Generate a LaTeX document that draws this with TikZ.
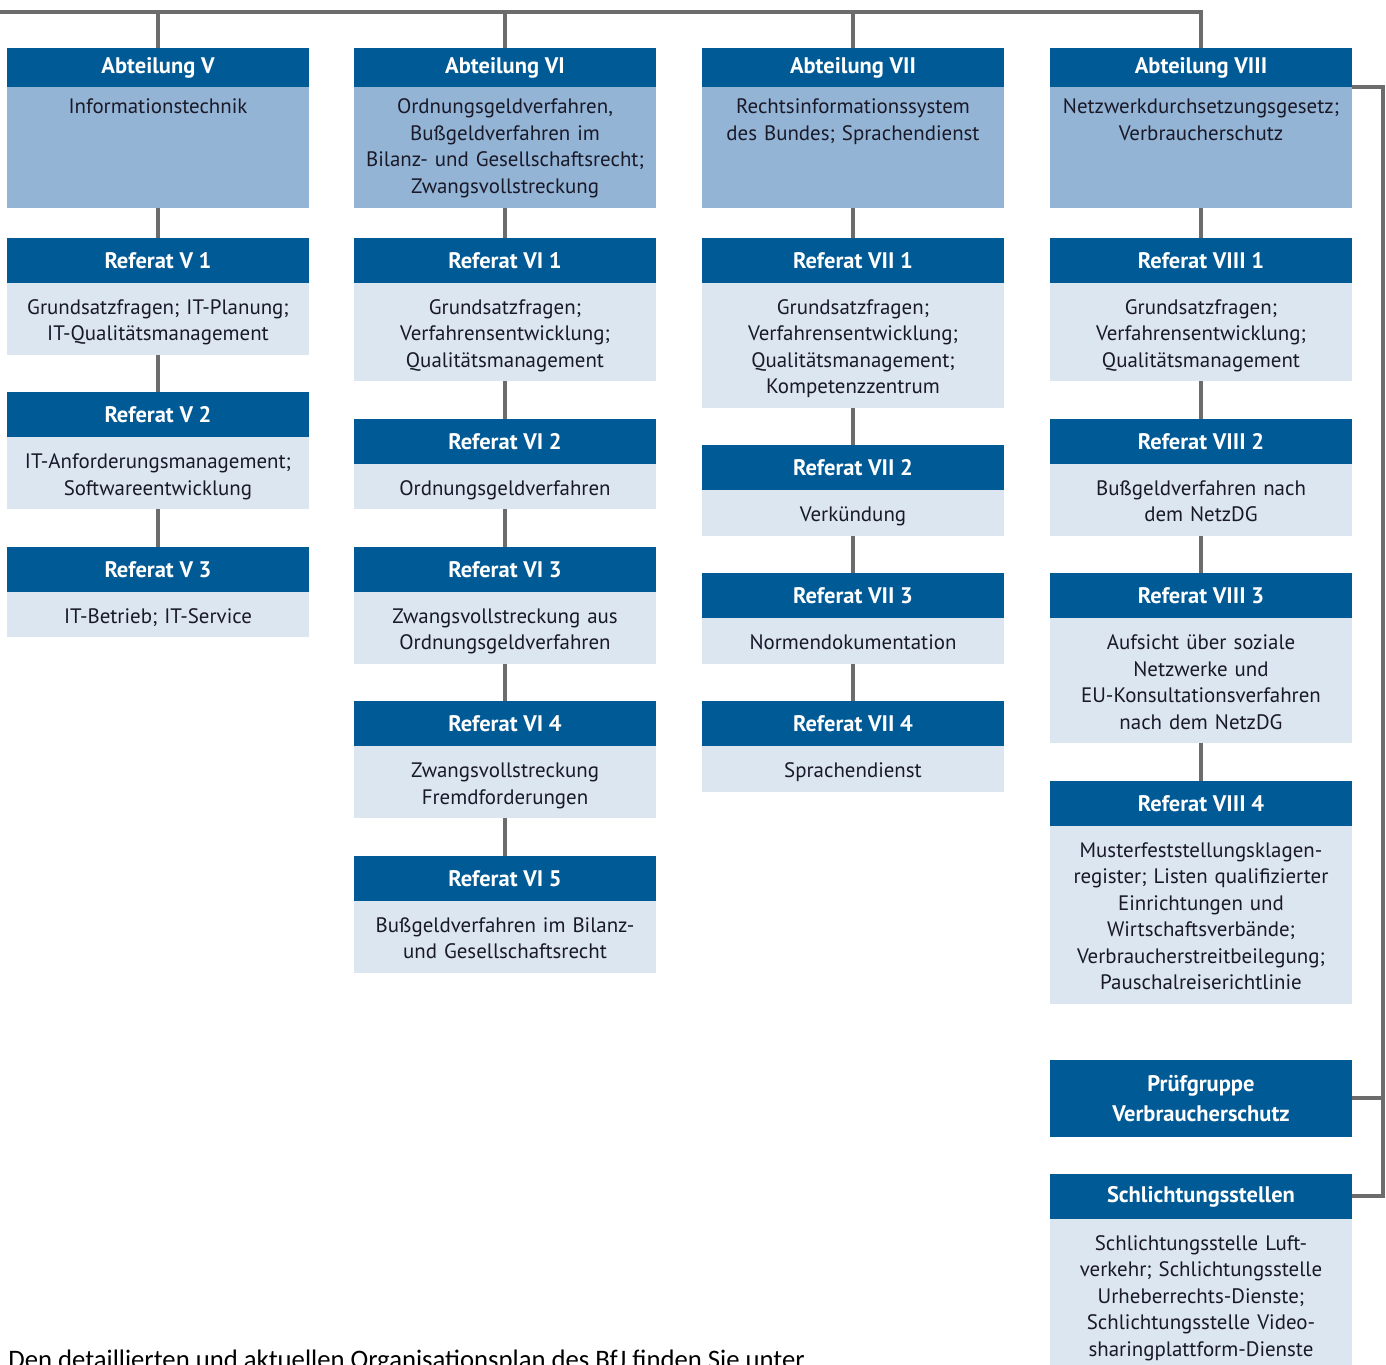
\documentclass[tikz,border=0pt]{standalone}
\usepackage{fontspec}
\setmainfont{PT Sans}
\newfontfamily\notefont{Carlito}
\usetikzlibrary{positioning}
\definecolor{bfjdark}{RGB}{0,90,150}
\definecolor{bfjmid}{RGB}{148,180,214}
\definecolor{bfjlight}{RGB}{220,230,240}
\definecolor{bfjtext}{RGB}{25,25,40}
\definecolor{linegrey}{RGB}{108,108,108}
\newcommand{\topstrut}{\rule{0pt}{12.3pt}}
\newcommand{\botstrut}{\rule[-2.8pt]{0pt}{2.8pt}}
\tikzset{
  head/.style={fill=bfjdark, text=white, font=\fontsize{12.8pt}{17pt}\selectfont\bfseries, minimum width=6.04cm, minimum height=0.9cm, inner sep=0pt, outer sep=0pt, anchor=north},
  abthead/.style={head, minimum height=0.78cm},
  body/.style={fill=bfjlight, text=bfjtext, font=\fontsize{11.9pt}{15.08pt}\selectfont, text width=6.04cm, align=center, inner xsep=0pt, inner ysep=0.19cm, outer sep=0pt, execute at begin node=\topstrut, execute at end node=\botstrut, anchor=north},
  abtbody/.style={fill=bfjmid, minimum width=6.04cm, minimum height=2.42cm, inner sep=0pt, outer sep=0pt, anchor=north},
  abttext/.style={body, fill=none, inner ysep=0.1cm},
  conn/.style={draw=linegrey, line width=0.08cm},
}
\begin{document}
\begin{tikzpicture}[x=0.02cm, y=-0.02cm]
			\useasboundingbox (0,0) rectangle (1386,1365);
			\clip (0,0) rectangle (1386,1365);
			\coordinate (top) at (-10,12);
			\coordinate (rx) at (1383,0);
			% Abteilung V
			\node[abthead] (a5) at (158,48) {Abteilung V};
			\node[abtbody, below=0pt of a5] (a5b) {};
			\node[abttext] (a5t) at (a5b.north) {Informationstechnik};
			\node[head, below=0.6cm of a5b] (r51) {Referat V 1};
			\node[body, below=0pt of r51] (r51b) {Grundsatzfragen; IT-Planung;\\ IT-Qualitätsmanagement};
			\node[head, below=0.75cm of r51b] (r52) {Referat V 2};
			\node[body, below=0pt of r52] (r52b) {IT-Anforderungsmanagement;\\ Softwareentwicklung};
			\node[head, below=0.75cm of r52b] (r53) {Referat V 3};
			\node[body, below=0pt of r53] (r53b) {IT-Betrieb; IT-Service};
			% Abteilung VI
			\node[abthead] (a6) at (505,48) {Abteilung VI};
			\node[abtbody, below=0pt of a6] (a6b) {};
			\node[abttext] (a6t) at (a6b.north) {Ordnungsgeldverfahren,\\ Bußgeldverfahren im\\ Bilanz- und Gesellschaftsrecht;\\ Zwangsvollstreckung};
			\node[head, below=0.6cm of a6b] (r61) {Referat VI 1};
			\node[body, below=0pt of r61] (r61b) {Grundsatzfragen;\\ Verfahrensentwicklung;\\ Qualitätsmanagement};
			\node[head, below=0.75cm of r61b] (r62) {Referat VI 2};
			\node[body, below=0pt of r62] (r62b) {Ordnungsgeldverfahren};
			\node[head, below=0.75cm of r62b] (r63) {Referat VI 3};
			\node[body, below=0pt of r63] (r63b) {Zwangsvollstreckung aus\\ Ordnungsgeldverfahren};
			\node[head, below=0.75cm of r63b] (r64) {Referat VI 4};
			\node[body, below=0pt of r64] (r64b) {Zwangsvollstreckung\\ Fremdforderungen};
			\node[head, below=0.75cm of r64b] (r65) {Referat VI 5};
			\node[body, below=0pt of r65] (r65b) {Bußgeldverfahren im Bilanz-\\ und Gesellschaftsrecht};
			% Abteilung VII
			\node[abthead] (a7) at (853,48) {Abteilung VII};
			\node[abtbody, below=0pt of a7] (a7b) {};
			\node[abttext] (a7t) at (a7b.north) {Rechtsinformationssystem\\ des Bundes; Sprachendienst};
			\node[head, below=0.6cm of a7b] (r71) {Referat VII 1};
			\node[body, below=0pt of r71] (r71b) {Grundsatzfragen;\\ Verfahrensentwicklung;\\ Qualitätsmanagement;\\ Kompetenzzentrum};
			\node[head, below=0.75cm of r71b] (r72) {Referat VII 2};
			\node[body, below=0pt of r72] (r72b) {Verkündung};
			\node[head, below=0.75cm of r72b] (r73) {Referat VII 3};
			\node[body, below=0pt of r73] (r73b) {Normendokumentation};
			\node[head, below=0.75cm of r73b] (r74) {Referat VII 4};
			\node[body, below=0pt of r74] (r74b) {Sprachendienst};
			% Abteilung VIII
			\node[abthead] (a8) at (1201,48) {Abteilung VIII};
			\node[abtbody, below=0pt of a8] (a8b) {};
			\node[abttext] (a8t) at (a8b.north) {Netzwerkdurchsetzungsgesetz;\\ Verbraucherschutz};
			\node[head, below=0.6cm of a8b] (r81) {Referat VIII 1};
			\node[body, below=0pt of r81] (r81b) {Grundsatzfragen;\\ Verfahrensentwicklung;\\ Qualitätsmanagement};
			\node[head, below=0.75cm of r81b] (r82) {Referat VIII 2};
			\node[body, below=0pt of r82] (r82b) {Bußgeldverfahren nach\\ dem NetzDG};
			\node[head, below=0.75cm of r82b] (r83) {Referat VIII 3};
			\node[body, below=0pt of r83] (r83b) {Aufsicht über soziale\\ Netzwerke und\\ EU-Konsultationsverfahren\\ nach dem NetzDG};
			\node[head, below=0.75cm of r83b] (r84) {Referat VIII 4};
			\node[body, below=0pt of r84] (r84b) {Musterfeststellungsklagen-\\ register; Listen qualifizierter\\ Einrichtungen und\\ Wirtschaftsverbände;\\ Verbraucherstreitbeilegung;\\ Pauschalreiserichtlinie};
			\node[head, align=center, minimum height=1.54cm, below=1.12cm of r84b] (pg) {Prüfgruppe\\ Verbraucherschutz};
			\node[head, below=0.74cm of pg] (sh) {Schlichtungsstellen};
			\node[body, below=0pt of sh] (shb) {Schlichtungsstelle Luft-\\ verkehr; Schlichtungsstelle\\ Urheberrechts-Dienste;\\ Schlichtungsstelle Video-\\ sharingplattform-Dienste};
			% Linien
			\draw[conn] (top) -- (top -| a8.north) -- (a8.north);
			\foreach \c in {a5,a6,a7}
				\draw[conn] (\c.north |- top) -- (\c.north);
			\foreach \u/\v in {a5b/r51, r51b/r52, r52b/r53, a6b/r61, r61b/r62, r62b/r63, r63b/r64, r64b/r65, a7b/r71, r71b/r72, r72b/r73, r73b/r74, a8b/r81, r81b/r82, r82b/r83, r83b/r84}
				\draw[conn] (\u.south) -- (\v.north);
			\draw[conn] (a8.south east) -- (a8.south east -| rx) -- (sh.east -| rx) -- (sh.east);
			\draw[conn] (pg.east) -- (pg.east -| rx);
			\node[anchor=base west, inner sep=0pt, font=\notefont\fontsize{15.2pt}{17pt}\selectfont] (note) at (8,1368) {Den detaillierten und aktuellen Organisationsplan des BfJ finden Sie unter};
\end{tikzpicture}
\end{document}
